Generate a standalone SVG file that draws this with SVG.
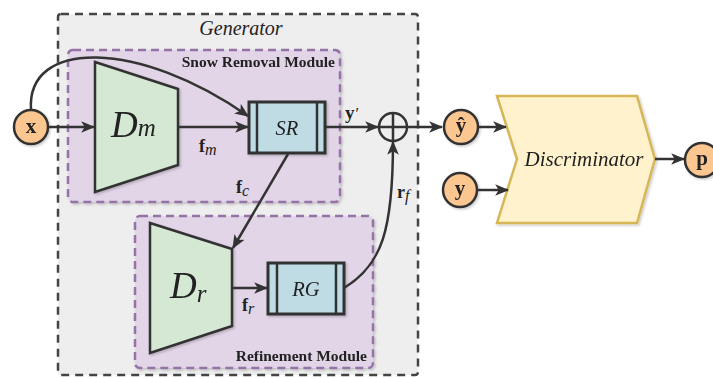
<svg xmlns="http://www.w3.org/2000/svg" width="713" height="378" viewBox="0 0 713 378">
<style>
.ln{fill:none;stroke:#333;stroke-width:2.5}
.trap{fill:#d5e8d4;stroke:#333;stroke-width:2.5}
.blk{fill:#bfdce5;stroke:#333;stroke-width:3}
.inr{stroke:#333;stroke-width:2.5}
.circ{fill:#fcc690;stroke:#333;stroke-width:2.5}
.mod{fill:#e1d5e7;stroke:#9673a6;stroke-width:2.5;stroke-dasharray:8 5}
.serif{font-family:"Liberation Serif","Times New Roman",serif;fill:#222}
.it{font-style:italic;font-weight:normal}
.b{font-weight:bold}
</style>
<defs>
<marker id="ah" viewBox="0 0 12 10" refX="11" refY="5" markerWidth="5.6" markerHeight="4.7" orient="auto" markerUnits="strokeWidth">
<path d="M0,0 L12,5 L0,10 L3,5 Z" fill="#333"/>
</marker>
<filter id="sh" x="-10%" y="-10%" width="120%" height="120%">
<feDropShadow dx="1.5" dy="1.5" stdDeviation="1" flood-color="#000" flood-opacity="0.2"/>
</filter>
</defs>
<g id="generator">
<rect x="58" y="14" width="360" height="361" rx="3" fill="#eeeeee" stroke="#444" stroke-width="2.5" stroke-dasharray="8 6"/>
<text x="241" y="35" class="serif it" font-size="20" text-anchor="middle">Generator</text>
</g>
<g id="snow-removal-module" filter="url(#sh)">
<rect class="mod" x="68" y="50" width="272" height="152" rx="5"/>
<text x="335" y="67" class="serif b" font-size="15.5" text-anchor="end">Snow Removal Module</text>
</g>
<g id="refinement-module" filter="url(#sh)">
<rect class="mod" x="135" y="216" width="238" height="152" rx="5"/>
<text x="367" y="361" class="serif b" font-size="15.5" text-anchor="end">Refinement Module</text>
</g>
<g id="Dm" filter="url(#sh)">
<polygon class="trap" points="95,62 178,89 178,165 95,192"/>
<text x="111" y="137" class="serif it" font-size="37">D<tspan font-size="25" dy="-1">m</tspan></text>
</g>
<g id="SR" filter="url(#sh)">
<rect class="blk" x="249" y="102" width="76" height="51"/>
<line class="inr" x1="257" y1="102" x2="257" y2="153"/>
<line class="inr" x1="317" y1="102" x2="317" y2="153"/>
<text x="287" y="135" class="serif it" font-size="20.5" text-anchor="middle">SR</text>
</g>
<g id="Dr" filter="url(#sh)">
<polygon class="trap" points="150,223 232,249 232,326 150,353"/>
<text x="170" y="298" class="serif it" font-size="37">D<tspan font-size="25" dy="4">r</tspan></text>
</g>
<g id="RG" filter="url(#sh)">
<rect class="blk" x="268" y="263" width="76" height="51"/>
<line class="inr" x1="277" y1="263" x2="277" y2="314"/>
<line class="inr" x1="336" y1="263" x2="336" y2="314"/>
<text x="306" y="296" class="serif it" font-size="20.5" text-anchor="middle">RG</text>
</g>
<g id="x" filter="url(#sh)">
<circle class="circ" cx="31" cy="127" r="17"/>
<text x="31" y="133" class="serif b" font-size="21" text-anchor="middle">x</text>
</g>
<g id="plus">
<circle cx="393" cy="127" r="14" fill="none" stroke="#333" stroke-width="2.5"/>
<line class="inr" x1="379" y1="127" x2="407" y2="127"/>
<line class="inr" x1="393" y1="113" x2="393" y2="141"/>
</g>
<g id="yhat" filter="url(#sh)">
<circle class="circ" cx="461" cy="127" r="17"/>
<text x="461" y="132" class="serif b" font-size="21" text-anchor="middle">ŷ</text>
</g>
<g id="y" filter="url(#sh)">
<circle class="circ" cx="460" cy="190" r="17"/>
<text x="460" y="195" class="serif b" font-size="21" text-anchor="middle">y</text>
</g>
<g id="discriminator" filter="url(#sh)">
<polygon points="497,96 637,96 655,159 637,223 497,223 517,159" fill="#fff2cc" stroke="#d6b656" stroke-width="2.5"/>
<text x="584" y="166" class="serif it" font-size="21" text-anchor="middle">Discriminator</text>
</g>
<g id="p" filter="url(#sh)">
<circle class="circ" cx="702" cy="160" r="17"/>
<text x="702" y="165" class="serif b" font-size="21" text-anchor="middle">p</text>
</g>
<g id="connectors">
<line class="ln" x1="48" y1="127" x2="94" y2="127" marker-end="url(#ah)"/>
<path class="ln" d="M31,110 C26,38 140,40 248,116" marker-end="url(#ah)"/>
<line class="ln" x1="178" y1="127" x2="248" y2="127" marker-end="url(#ah)"/>
<line class="ln" x1="325" y1="127" x2="378" y2="127" marker-end="url(#ah)"/>
<line class="ln" x1="288" y1="154" x2="233" y2="248" marker-end="url(#ah)"/>
<line class="ln" x1="232" y1="288" x2="267" y2="288" marker-end="url(#ah)"/>
<path class="ln" d="M344,288 C382,265 393,230 393,142" marker-end="url(#ah)"/>
<line class="ln" x1="407" y1="127" x2="442" y2="127" marker-end="url(#ah)"/>
<line class="ln" x1="478" y1="127" x2="506" y2="127" marker-end="url(#ah)"/>
<line class="ln" x1="477" y1="190" x2="508" y2="190" marker-end="url(#ah)"/>
<line class="ln" x1="655" y1="159" x2="684" y2="159" marker-end="url(#ah)"/>
</g>
<g id="labels">
<text x="199" y="152" class="serif b" font-size="18">f<tspan class="it" font-size="16" dy="3">m</tspan></text>
<text x="236" y="193" class="serif b" font-size="18">f<tspan class="it" font-size="16" dy="3">c</tspan></text>
<text x="242" y="311" class="serif b" font-size="18">f<tspan class="it" font-size="16" dy="3">r</tspan></text>
<text x="345" y="119" class="serif b" font-size="19">y<tspan font-weight="normal" font-size="16" dx="1">′</tspan></text>
<text x="397" y="198" class="serif b" font-size="18">r<tspan class="it" font-size="16" dy="3">f</tspan></text>
</g>
</svg>
